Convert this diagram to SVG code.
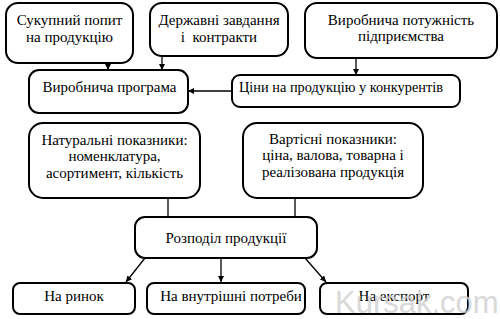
<svg xmlns="http://www.w3.org/2000/svg" width="500" height="319" viewBox="0 0 500 319">
<style>
.box{fill:#fff;stroke:#000;stroke-width:2}
.t{font-size:15px;fill:#000;text-anchor:middle}
.c{stroke:#000;stroke-width:1.3;fill:none}
.wm{font-size:31px;fill:#d0d0d0;opacity:0.8}
</style>
<defs>
<marker id="ah" viewBox="0 0 10 10" refX="10" refY="5" markerWidth="6" markerHeight="6" orient="auto" markerUnits="userSpaceOnUse">
<path d="M0,0 L10,5 L0,10 z" fill="#000"/>
</marker>
</defs>
<g id="connectors">
<line class="c" x1="108" y1="63" x2="108" y2="70" marker-end="url(#ah)"/>
<line class="c" x1="162" y1="56" x2="162" y2="70" marker-end="url(#ah)"/>
<line class="c" x1="356" y1="58" x2="356" y2="75" marker-end="url(#ah)"/>
<line class="c" x1="232" y1="91" x2="188" y2="91" marker-end="url(#ah)"/>
<line class="c" x1="168" y1="198" x2="168" y2="217"/>
<line class="c" x1="295" y1="198" x2="295" y2="217"/>
<line class="c" x1="145" y1="258" x2="126" y2="282" stroke-width="1" marker-end="url(#ah)"/>
<line class="c" x1="221" y1="258" x2="221" y2="282" stroke-width="1" marker-end="url(#ah)"/>
<line class="c" x1="305" y1="258" x2="326" y2="282" stroke-width="1" marker-end="url(#ah)"/>
</g>
<g font-family="Liberation Serif, Times New Roman, DejaVu Serif, serif">
<g id="n1"><rect class="box" x="6" y="3" width="127" height="60" rx="12"/><text class="t" x="69.5" y="25">Сукупний попит</text><text class="t" x="69.5" y="42">на продукцію</text></g>
<g id="n2"><rect class="box" x="150" y="3" width="138" height="53" rx="12"/><text class="t" x="219" y="25">Державні завдання</text><text class="t" x="219" y="42" xml:space="preserve">і  контракти</text></g>
<g id="n3"><rect class="box" x="305" y="3" width="192" height="55" rx="12"/><text class="t" x="401" y="25">Виробнича потужність</text><text class="t" x="401" y="41">підприємства</text></g>
<g id="n4"><rect class="box" x="29" y="70" width="159" height="43" rx="10"/><text class="t" x="109.5" y="92">Виробнича програма</text></g>
<g id="n5"><rect class="box" x="232" y="75" width="228" height="32" rx="8"/><text class="t" x="341" y="92" textLength="204" lengthAdjust="spacingAndGlyphs">Ціни на продукцію у конкурентів</text></g>
<g id="n6"><rect class="box" x="29" y="123" width="171" height="75" rx="14"/><text class="t" x="114.5" y="145">Натуральні показники:</text><text class="t" x="114.5" y="161">номенклатура,</text><text class="t" x="114.5" y="178">асортимент, кількість</text></g>
<g id="n7"><rect class="box" x="243" y="123" width="180" height="75" rx="14"/><text class="t" x="333" y="144">Вартісні показники:</text><text class="t" x="333" y="160">ціна, валова, товарна і</text><text class="t" x="333" y="177">реалізована продукція</text></g>
<g id="n8"><rect class="box" x="135" y="217" width="182" height="41" rx="10"/><text class="t" x="226" y="243">Розподіл продукції</text></g>
<g id="n9"><rect class="box" x="13" y="283" width="122" height="31" rx="7"/><text class="t" x="74" y="301">На ринок</text></g>
<g id="n10"><rect class="box" x="147" y="283" width="158" height="31" rx="7"/><text class="t" x="231" y="301">На внутрішні потреби</text></g>
<g id="n11"><rect class="box" x="320" y="283" width="148" height="31" rx="7"/><text class="t" x="394" y="301">На експорт</text></g>
</g>
<text class="wm" x="335" y="313" font-family="Liberation Sans, Arial, sans-serif">Kursak.com</text>
</svg>
